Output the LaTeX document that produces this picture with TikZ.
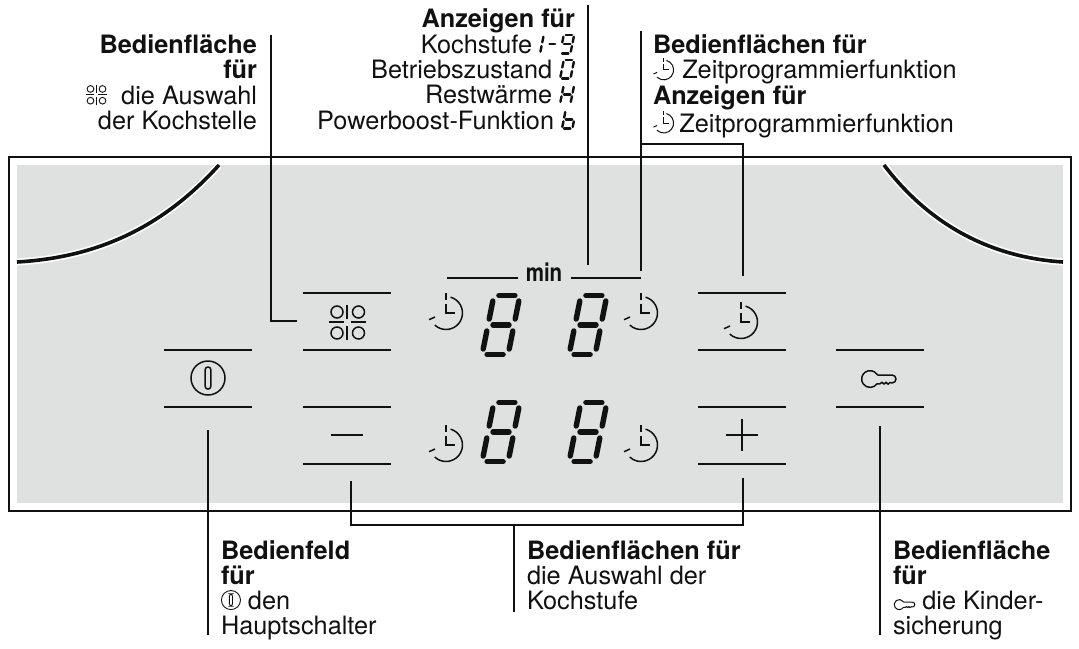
\documentclass[tikz,border=0pt]{standalone}
\usepackage{fontspec}
\setmainfont{TeX Gyre Heros}
\definecolor{panelgray}{HTML}{DFE1E0}
\definecolor{ink}{HTML}{111111}
\def\iconlw{1.5pt}
\def\seglw{5.4pt}
\newcommand\segA{\draw[segline] (-8,-29.5)--(8,-29.5);}
\newcommand\segB{\draw[segline] (13,-24)--(13,-6);}
\newcommand\segC{\draw[segline] (13,6)--(13,24);}
\newcommand\segD{\draw[segline] (-8,29.5)--(8,29.5);}
\newcommand\segE{\draw[segline] (-13,6)--(-13,24);}
\newcommand\segF{\draw[segline] (-13,-24)--(-13,-6);}
\newcommand\segG{\draw[segline] (-8,0)--(8,0);}
\tikzset{
  segline/.style={line width=\seglw,line cap=round,color=ink,xslant=0.2},
  rulebar/.style={line width=2pt,color=ink},
  leader/.style={line width=1.1pt,color=ink},
  btn/.style={minimum width=88pt,minimum height=57pt,inner sep=0pt,outer sep=0pt},
  lbl/.style={inner sep=0pt,outer sep=0pt,font=\fontsize{25.3}{25.1}\selectfont,text=ink},
  lblr/.style={lbl,align=right,anchor=north east},
  lbll/.style={lbl,align=left,anchor=north west},
  clockicon/.pic={
    \draw[line width=\iconlw,color=ink] (4.55,-15.86) arc[start angle=-74,end angle=133,radius=16.5];
    \draw[line width=\iconlw,color=ink] (-17,6.7)--(-11,4);
    \draw[line width=\iconlw,color=ink] (0,-20)--(0,-12.7);
    \draw[line width=\iconlw,color=ink] (0,-9.3)--(0,0)--(9,0);
  },
  powericon/.pic={
    \draw[line width=\iconlw,color=ink] (0,0) circle[radius=17];
    \draw[line width=\iconlw,color=ink,rounded corners=2.6pt] (-2.8,-11) rectangle (2.8,11);
  },
  gridicon/.pic={
    \draw[line width=\iconlw,color=ink] (-18,0)--(-3.5,0) (4,0)--(19,0) (0,-17)--(0,-3.5) (0,4)--(0,18);
    \foreach \px in {-10,11.5}\foreach \py in {-10,11}
      \draw[line width=\iconlw,color=ink] (\px,\py) circle[radius=6];
  },
  keyicon/.pic={
    \draw[line width=\iconlw,color=ink,line join=round]
      (6.9,-4.8) arc[start angle=-35,end angle=-325,radius=8.4]
      (6.9,-4.8) -- (8,-4) -- (22,-4) arc[start angle=-90,end angle=90,radius=4]
      -- (20,3.5) -- (18,5.2) -- (16,3.2) -- (14,5.2) -- (12,3.2) -- (10,4.8) -- (6.9,4.8);
  },
}
\newcommand\bigdigit[2]{\begin{scope}[shift={(#1,#2)}]\segA\segB\segC\segD\segE\segF\segG\end{scope}}
\newcommand\inclock{\begingroup\def\iconlw{1pt}\tikz[x=1pt,y=-1pt,baseline=-9pt]{\pic[scale=.6]{clockicon};}\endgroup}
\newcommand\ingrid{\begingroup\def\iconlw{.9pt}\tikz[x=1pt,y=-1pt,baseline=-9.5pt]{\pic[scale=.56]{gridicon};}\endgroup}
\newcommand\inpower{\begingroup\def\iconlw{.9pt}\tikz[x=1pt,y=-1pt,baseline=-9.5pt]{\pic[scale=.56]{powericon};}\endgroup}
\newcommand\inkey{\begingroup\def\iconlw{1pt}\tikz[x=1pt,y=-1pt,baseline=-5pt]{\pic[scale=.6]{keyicon};}\endgroup}
\newcommand\insegs[1]{\begingroup\def\seglw{2.4pt}\tikz[x=.4pt,y=-.31pt,baseline=-9.5pt]{#1}\endgroup}
\begin{document}
\begin{tikzpicture}[x=1pt,y=-1pt]
\useasboundingbox (0,0) rectangle (1079,648);
% panel
\fill[white] (0,0) rectangle (1079,648);
\fill[panelgray] (17,165) rectangle (1063,503);
\draw[line width=1.2pt,color=ink] (9,157) rectangle (1071,511);
% hob arcs
\draw[white,line width=7pt] (219,165) .. controls (155,236) and (85,258) .. (17,262);
\draw[ink,line width=3.6pt] (219,165) .. controls (155,236) and (85,258) .. (17,262);
\draw[white,line width=7pt] (884,165) .. controls (935,232) and (1000,258) .. (1063,262);
\draw[ink,line width=3.6pt] (884,165) .. controls (935,232) and (1000,258) .. (1063,262);
% buttons
\node[btn] (power) at (208,378.5) {};
\node[btn] (zone) at (347,321.5) {};
\node[btn] (minus) at (347,435) {};
\node[btn] (timer) at (742,321.5) {};
\node[btn] (plus) at (742,435) {};
\node[btn] (lock) at (880,378.5) {};
\foreach \b in {power,zone,minus,timer,plus,lock}
  \draw[rulebar] (\b.north west)--(\b.north east) (\b.south west)--(\b.south east);
% icons
\pic at (208,378) {powericon};
\pic at (347,322) {gridicon};
\draw[line width=1.7pt,color=ink] (331,435)--(363,435);
\draw[line width=1.7pt,color=ink] (726,435)--(758,435) (742,419)--(742,451);
\pic at (741,322) {clockicon};
\pic at (870,379) {keyicon};
\pic at (446,313) {clockicon};
\pic at (446,445) {clockicon};
\pic at (641,313) {clockicon};
\pic at (641,445) {clockicon};
\bigdigit{501}{325}
\bigdigit{588}{325}
\bigdigit{501}{432}
\bigdigit{588}{432}
% min
\node[lbl,font=\fontsize{25}{25}\bfseries,xscale=.82,anchor=base] (minlabel) at (544,281) {min};
\coordinate (minL1) at (447,278); \coordinate (minL2) at (518,278);
\coordinate (minR1) at (571,278); \coordinate (minR2) at (641,278);
\draw[rulebar,line width=1.6pt] (minL1)--(minL2) (minR1)--(minR2);
% leaders
\coordinate (a1) at (271,35); \coordinate (a2) at (271,321); \coordinate (a3) at (297,321);
\draw[leader] (a1)--(a2)--(a3);
\coordinate (d1) at (588,5); \coordinate (d2) at (588,265);
\draw[leader] (d1)--(d2);
\coordinate (t1) at (641,31); \coordinate (t2) at (641,271);
\draw[leader] (t1)--(t2);
\coordinate (t3) at (641,144); \coordinate (t4) at (743,144); \coordinate (t5) at (743,276);
\draw[leader] (t3)--(t4)--(t5);
\coordinate (p1) at (208,430); \coordinate (p2) at (208,635);
\draw[leader] (p1)--(p2);
\coordinate (m1) at (351,481); \coordinate (m2) at (351,525); \coordinate (m3) at (743,525); \coordinate (m4) at (743,478);
\draw[leader] (m1)--(m2)--(m3)--(m4);
\coordinate (m5) at (514,525); \coordinate (m6) at (514,612);
\draw[leader] (m5)--(m6);
\coordinate (k1) at (880,426); \coordinate (k2) at (880,635);
\draw[leader] (k1)--(k2);
% labels
\node[lblr] (tZone) at (257,35) {\textbf{Bedienfläche}\\\textbf{für}\\\ingrid\ \ die Auswahl\\der Kochstelle};
\node[lblr] (tDisp) at (575,8.5) {\textbf{Anzeigen für}\\Kochstufe \insegs{\segE\segF\draw[segline] (6,0)--(20,0);\begin{scope}[shift={(50,0)}]\segA\segB\segC\segD\segF\segG\end{scope}}\\Betriebszustand \insegs{\segA\segB\segC\segD\segE\segF}\\Restwärme \insegs{\segB\segC\segE\segF\segG}\\Powerboost-Funktion \insegs{\segC\segD\segE\segF\segG}};
\node[lbll] (tTimer) at (653,35) {\textbf{Bedienflächen für}\\\inclock\ Zeitprogrammierfunktion\\\textbf{Anzeigen für}\\\inclock\,Zeitprogrammierfunktion};
\node[lbll] (tPower) at (221,540.5) {\textbf{Bedienfeld}\\\textbf{für}\\\inpower\ den\\Hauptschalter};
\node[lbll] (tLevel) at (527,540.5) {\textbf{Bedienflächen für}\\die Auswahl der\\Kochstufe};
\node[lbll] (tLock) at (893,540.5) {\textbf{Bedienfläche}\\\textbf{für}\\\inkey\ die Kinder-\\sicherung};
\end{tikzpicture}
\end{document}
